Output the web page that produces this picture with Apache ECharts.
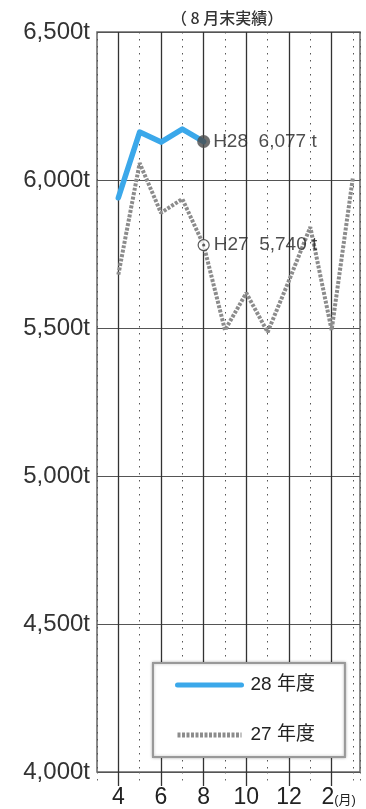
<!DOCTYPE html>
<html>
<head>
<meta charset="utf-8">
<script src="https://cdn.jsdelivr.net/npm/echarts@6/dist/echarts.min.js"></script>
<style>
  html, body { margin: 0; padding: 0; background: #fff; }
  #chart { width: 366px; height: 809px; }
</style>
</head>
<body>
<div id="chart"></div>
<script>
// months on the x axis (index 0 = April)
const months = ['4', '5', '6', '7', '8', '9', '10', '11', '12', '1', '2', '3']
const h28Name = '28 年度'
const h27Name = '27 年度'
// H28: April..August
const h28Values = [5940, 6162, 6128, 6172, 6130]
// H27: full year
const h27Values = [5680, 6057, 5889, 5936, 5780, 5493, 5618, 5486, 5660, 5841, 5493, 6010]
const yTicks = [4000, 4500, 5000, 5500, 6000, 6500]
const markerLabels = ['H28  6,077 t', 'H27  5,740 t']
const lastIdx = 4

const font = '"Liberation Sans", "Noto Sans CJK JP", sans-serif'
const evenIdx = months.map((m, i) => i).filter(i => i % 2 === 0)

const chart = echarts.init(document.getElementById('chart'))
chart.setOption({
  backgroundColor: '#fff',
  animation: false,
  textStyle: { fontFamily: font },
  title: {
    text: '（ 8 月末実績）',
    left: 166,
    top: 5,
    textStyle: { fontSize: 16, fontWeight: 500, color: '#333', fontFamily: '"Noto Sans CJK JP", sans-serif' }
  },
  grid: {
    left: 97,
    top: 32,
    right: 6,
    bottom: 36,
    show: true,
    borderColor: '#666',
    borderWidth: 1.5
  },
  legend: {
    data: [h28Name, h27Name],
    orient: 'vertical',
    left: 153,
    top: 663,
    itemWidth: 64,
    itemHeight: 14,
    itemGap: 30,
    padding: [12, 30, 12, 22],
    backgroundColor: '#fff',
    borderColor: '#999',
    borderWidth: 2,
    shadowColor: 'rgba(0,0,0,0.25)',
    shadowBlur: 3,
    selectedMode: false,
    itemStyle: { opacity: 0 },
    lineStyle: { width: 5 },
    textStyle: { fontSize: 19, color: '#222', lineHeight: 20, padding: [0, 0, 0, 4] }
  },
  xAxis: [
    {
      type: 'value',
      min: -1,
      max: 11.33,
      interval: 1,
      axisLine: { show: false },
      axisTick: { show: true, length: 13, lineStyle: { color: '#666', type: [1.5, 5.5] } },
      splitLine: { show: true, lineStyle: { color: '#555', width: 1, type: [1.5, 5.5] } },
      axisLabel: {
        margin: 14,
        fontSize: 23,
        color: '#222',
        formatter: v => {
          if (v < 0 || v % 2 !== 0 || !months[v]) return ''
          if (v === 10) return '{p|}' + months[v] + '{u|(月)}'
          return months[v]
        },
        rich: {
          p: { width: 14 },
          u: { fontSize: 13, color: '#222', padding: [5, 0, 0, 0] }
        }
      }
    },
    {
      type: 'value',
      min: -1,
      max: 11.33,
      interval: 1,
      position: 'bottom',
      axisLine: { show: false },
      axisLabel: { show: false },
      axisTick: { show: true, length: 14, customValues: evenIdx, lineStyle: { color: '#333', width: 1.3 } },
      splitLine: { show: true, customValues: evenIdx, lineStyle: { color: '#333', width: 1.3 } }
    }
  ],
  yAxis: {
    type: 'value',
    min: yTicks[0],
    max: yTicks[yTicks.length - 1],
    interval: 500,
    axisLine: { show: false },
    axisTick: { show: false },
    splitLine: { show: true, lineStyle: { color: '#555', width: 1.2 } },
    axisLabel: {
      margin: 7,
      fontSize: 24,
      color: '#333',
      formatter: v => v.toLocaleString('en-US') + 't'
    }
  },
  series: [
    {
      name: h27Name,
      type: 'line',
      symbol: 'none',
      z: 3,
      data: h27Values.map((v, i) => [i, v]),
      lineStyle: { color: '#8c8c8c', width: 4, type: [3, 1.5] },
      itemStyle: { color: '#8c8c8c' }
    },
    {
      name: h28Name,
      type: 'line',
      symbol: 'none',
      z: 4,
      data: h28Values.map((v, i) => [i, v]),
      lineStyle: { color: '#3ba8ea', width: 5.5, cap: 'round', join: 'round' },
      itemStyle: { color: '#3ba8ea' }
    },
    {
      name: 'H28点',
      type: 'scatter',
      z: 5,
      symbolSize: 13,
      data: [[lastIdx, h28Values[lastIdx]]],
      itemStyle: { color: '#4a4a4a' },
      label: {
        show: true,
        position: 'right',
        distance: 3,
        fontSize: 19,
        color: '#222',
        formatter: markerLabels[0]
      }
    },
    {
      name: 'H27点',
      type: 'scatter',
      z: 5,
      symbolSize: 11,
      data: [[lastIdx, h27Values[lastIdx]]],
      itemStyle: { color: '#fff', borderColor: '#333', borderWidth: 1.2 },
      label: {
        show: true,
        position: 'right',
        distance: 4,
        fontSize: 19,
        color: '#222',
        formatter: markerLabels[1]
      }
    },
    {
      name: 'H27点内',
      type: 'scatter',
      z: 6,
      symbolSize: 3,
      data: [[lastIdx, h27Values[lastIdx]]],
      itemStyle: { color: '#333' }
    }
  ]
})
</script>
</body>
</html>
